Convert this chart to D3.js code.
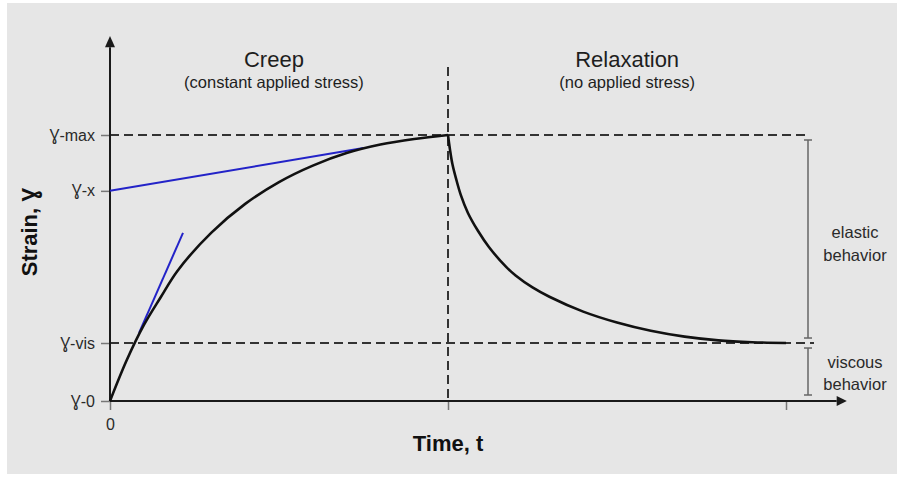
<!DOCTYPE html>
<html>
<head>
<meta charset="utf-8">
<script src="https://cdn.jsdelivr.net/npm/d3@7/dist/d3.min.js"></script>
<style>
  html, body { margin: 0; padding: 0; background: #ffffff; }
  svg { display: block; font-family: "Liberation Sans", Arial, sans-serif; }
</style>
</head>
<body>
<svg id="chart" width="897" height="477"></svg>
<script>
// Strain levels (fraction of the peak strain)
const levelNames  = ["Ɣ-0", "Ɣ-vis", "Ɣ-x", "Ɣ-max"];
const levelValues = [0, 0.218, 0.79, 1.0];

// Time ticks: load removed at t = 10, end of relaxation at t = 20
const timeTicks  = [0, 10, 20];
const timeLabels = ["0", "", ""];

// Creep phase (constant applied stress)
const creepT = [0, 0.5, 1, 1.5, 2, 3, 4, 5, 6, 7, 8, 9, 10];
const creepS = [0, 0.155, 0.285, 0.39, 0.49, 0.633, 0.741, 0.823, 0.885, 0.932, 0.964, 0.985, 1.0];

// Relaxation phase (no applied stress)
const relaxT = [10, 10.06, 10.13, 10.24, 10.38, 10.59, 10.89, 11.21, 11.72, 12, 12.5, 13, 14, 15, 16, 17, 18, 19, 20];
const relaxS = [1.0, 0.944, 0.891, 0.835, 0.774, 0.707, 0.639, 0.579, 0.504, 0.472, 0.427, 0.392, 0.336, 0.295, 0.264, 0.242, 0.228, 0.221, 0.218];

// Tangent lines on the creep curve: [t, strain] end points
const tangentLong  = [[0, 0.79], [7.5, 0.951]];
const tangentSteep = [[0.86, 0.256], [2.16, 0.632]];

const phaseTitles = ["Creep", "Relaxation"];
const phaseNotes  = ["(constant applied stress)", "(no applied stress)"];
const phaseCentres = [4.85, 15.3];

const svg = d3.select("#chart");

svg.append("rect")
  .attr("x", 7).attr("y", 3).attr("width", 890).attr("height", 471)
  .attr("fill", "#e6e6e6");

const x = d3.scaleLinear().domain([0, 20]).range([110, 786]);
const y = d3.scaleLinear().domain([0, 1]).range([401, 135]);

const ink = "#1a1a1a";
const dashInk = "#333333";
const tickInk = "#777777";

// Axes with tick labels
const yAxis = svg.append("g")
  .attr("transform", `translate(${x(0)},0)`)
  .call(d3.axisLeft(y).tickValues(levelValues)
    .tickFormat((d, i) => levelNames[i]).tickSize(9).tickPadding(6));
const xAxis = svg.append("g")
  .attr("transform", `translate(0,${y(0)})`)
  .call(d3.axisBottom(x).tickValues(timeTicks)
    .tickFormat((d, i) => timeLabels[i]).tickSize(9).tickPadding(9));

[yAxis, xAxis].forEach(g => {
  g.select(".domain").remove();
  g.selectAll(".tick line").attr("stroke", tickInk).attr("stroke-width", 1.5);
  g.selectAll(".tick text")
    .attr("fill", "#2a2a2a")
    .style("font-family", "'Liberation Sans', Arial, sans-serif")
    .style("font-size", "16px");
});

// Dashed reference lines
const dash = "9,5";
svg.append("line")
  .attr("x1", x(0)).attr("x2", x(20) + 19)
  .attr("y1", y(levelValues[3])).attr("y2", y(levelValues[3]))
  .attr("stroke", dashInk).attr("stroke-width", 2).attr("stroke-dasharray", dash);
svg.append("line")
  .attr("x1", x(0)).attr("x2", x(20) + 28)
  .attr("y1", y(levelValues[1])).attr("y2", y(levelValues[1]))
  .attr("stroke", dashInk).attr("stroke-width", 2).attr("stroke-dasharray", dash);
svg.append("line")
  .attr("x1", x(10)).attr("x2", x(10))
  .attr("y1", y(1.256)).attr("y2", y(0))
  .attr("stroke", dashInk).attr("stroke-width", 2).attr("stroke-dasharray", dash);

// Axis lines with arrow heads
svg.append("line")
  .attr("x1", x(0)).attr("x2", x(0)).attr("y1", y(0)).attr("y2", y(1.33))
  .attr("stroke", ink).attr("stroke-width", 2);
svg.append("path")
  .attr("d", `M${x(0)},${y(1.372)} L${x(0) - 5},${y(1.33)} L${x(0) + 5},${y(1.33)} Z`)
  .attr("fill", ink);
svg.append("line")
  .attr("x1", x(0)).attr("x2", x(21.5)).attr("y1", y(0)).attr("y2", y(0))
  .attr("stroke", ink).attr("stroke-width", 2);
svg.append("path")
  .attr("d", `M${x(21.8)},${y(0)} L${x(21.5)},${y(0) - 5} L${x(21.5)},${y(0) + 5} Z`)
  .attr("fill", ink);

// Tangent lines
const seg = d3.line().x(d => x(d[0])).y(d => y(d[1]));
[tangentLong, tangentSteep].forEach(pts => {
  svg.append("path").attr("d", seg(pts))
    .attr("fill", "none").attr("stroke", "#2323c8").attr("stroke-width", 2);
});

// Strain response curves
const curve = d3.line().x(d => x(d[0])).y(d => y(d[1])).curve(d3.curveCatmullRom.alpha(0.5));
svg.append("path").attr("d", curve(creepT.map((t, i) => [t, creepS[i]])))
  .attr("fill", "none").attr("stroke", "#111").attr("stroke-width", 2.6);
svg.append("path").attr("d", curve(relaxT.map((t, i) => [t, relaxS[i]])))
  .attr("fill", "none").attr("stroke", "#111").attr("stroke-width", 2.6);

// Behaviour brackets
const bx = x(20) + 22;
function bracket(y1, y2) {
  svg.append("line").attr("x1", bx).attr("x2", bx).attr("y1", y1).attr("y2", y2)
    .attr("stroke", "#666").attr("stroke-width", 1.5);
  [y1, y2].forEach(v => svg.append("line")
    .attr("x1", bx - 4).attr("x2", bx + 4).attr("y1", v).attr("y2", v)
    .attr("stroke", "#666").attr("stroke-width", 1.5));
}
bracket(y(levelValues[3]) + 5, y(levelValues[1]) - 5);
bracket(y(levelValues[1]) + 5, y(0) - 6);

const lx = x(20) + 69;
const sideText = (txt, yy) => svg.append("text")
  .attr("x", lx).attr("y", yy).attr("text-anchor", "middle")
  .attr("fill", "#2a2a2a").style("font-size", "16.5px").text(txt);
sideText("elastic", 238);
sideText("behavior", 261);
sideText("viscous", 368);
sideText("behavior", 390);

// Phase titles
phaseTitles.forEach((t, i) => {
  svg.append("text").attr("x", x(phaseCentres[i])).attr("y", 67)
    .attr("text-anchor", "middle").attr("fill", "#1e1e1e")
    .style("font-size", "22px").text(t);
  svg.append("text").attr("x", x(phaseCentres[i])).attr("y", 88)
    .attr("text-anchor", "middle").attr("fill", "#1e1e1e")
    .style("font-size", "16.5px").text(phaseNotes[i]);
});

// Axis titles
svg.append("text").attr("x", x(10)).attr("y", 451)
  .attr("text-anchor", "middle").attr("fill", "#111")
  .style("font-size", "22px").style("font-weight", "bold").text("Time, t");
svg.append("text")
  .attr("transform", "translate(37,232) rotate(-90)")
  .attr("text-anchor", "middle").attr("fill", "#111")
  .style("font-size", "22px").style("font-weight", "bold").text("Strain, Ɣ");
</script>
</body>
</html>
